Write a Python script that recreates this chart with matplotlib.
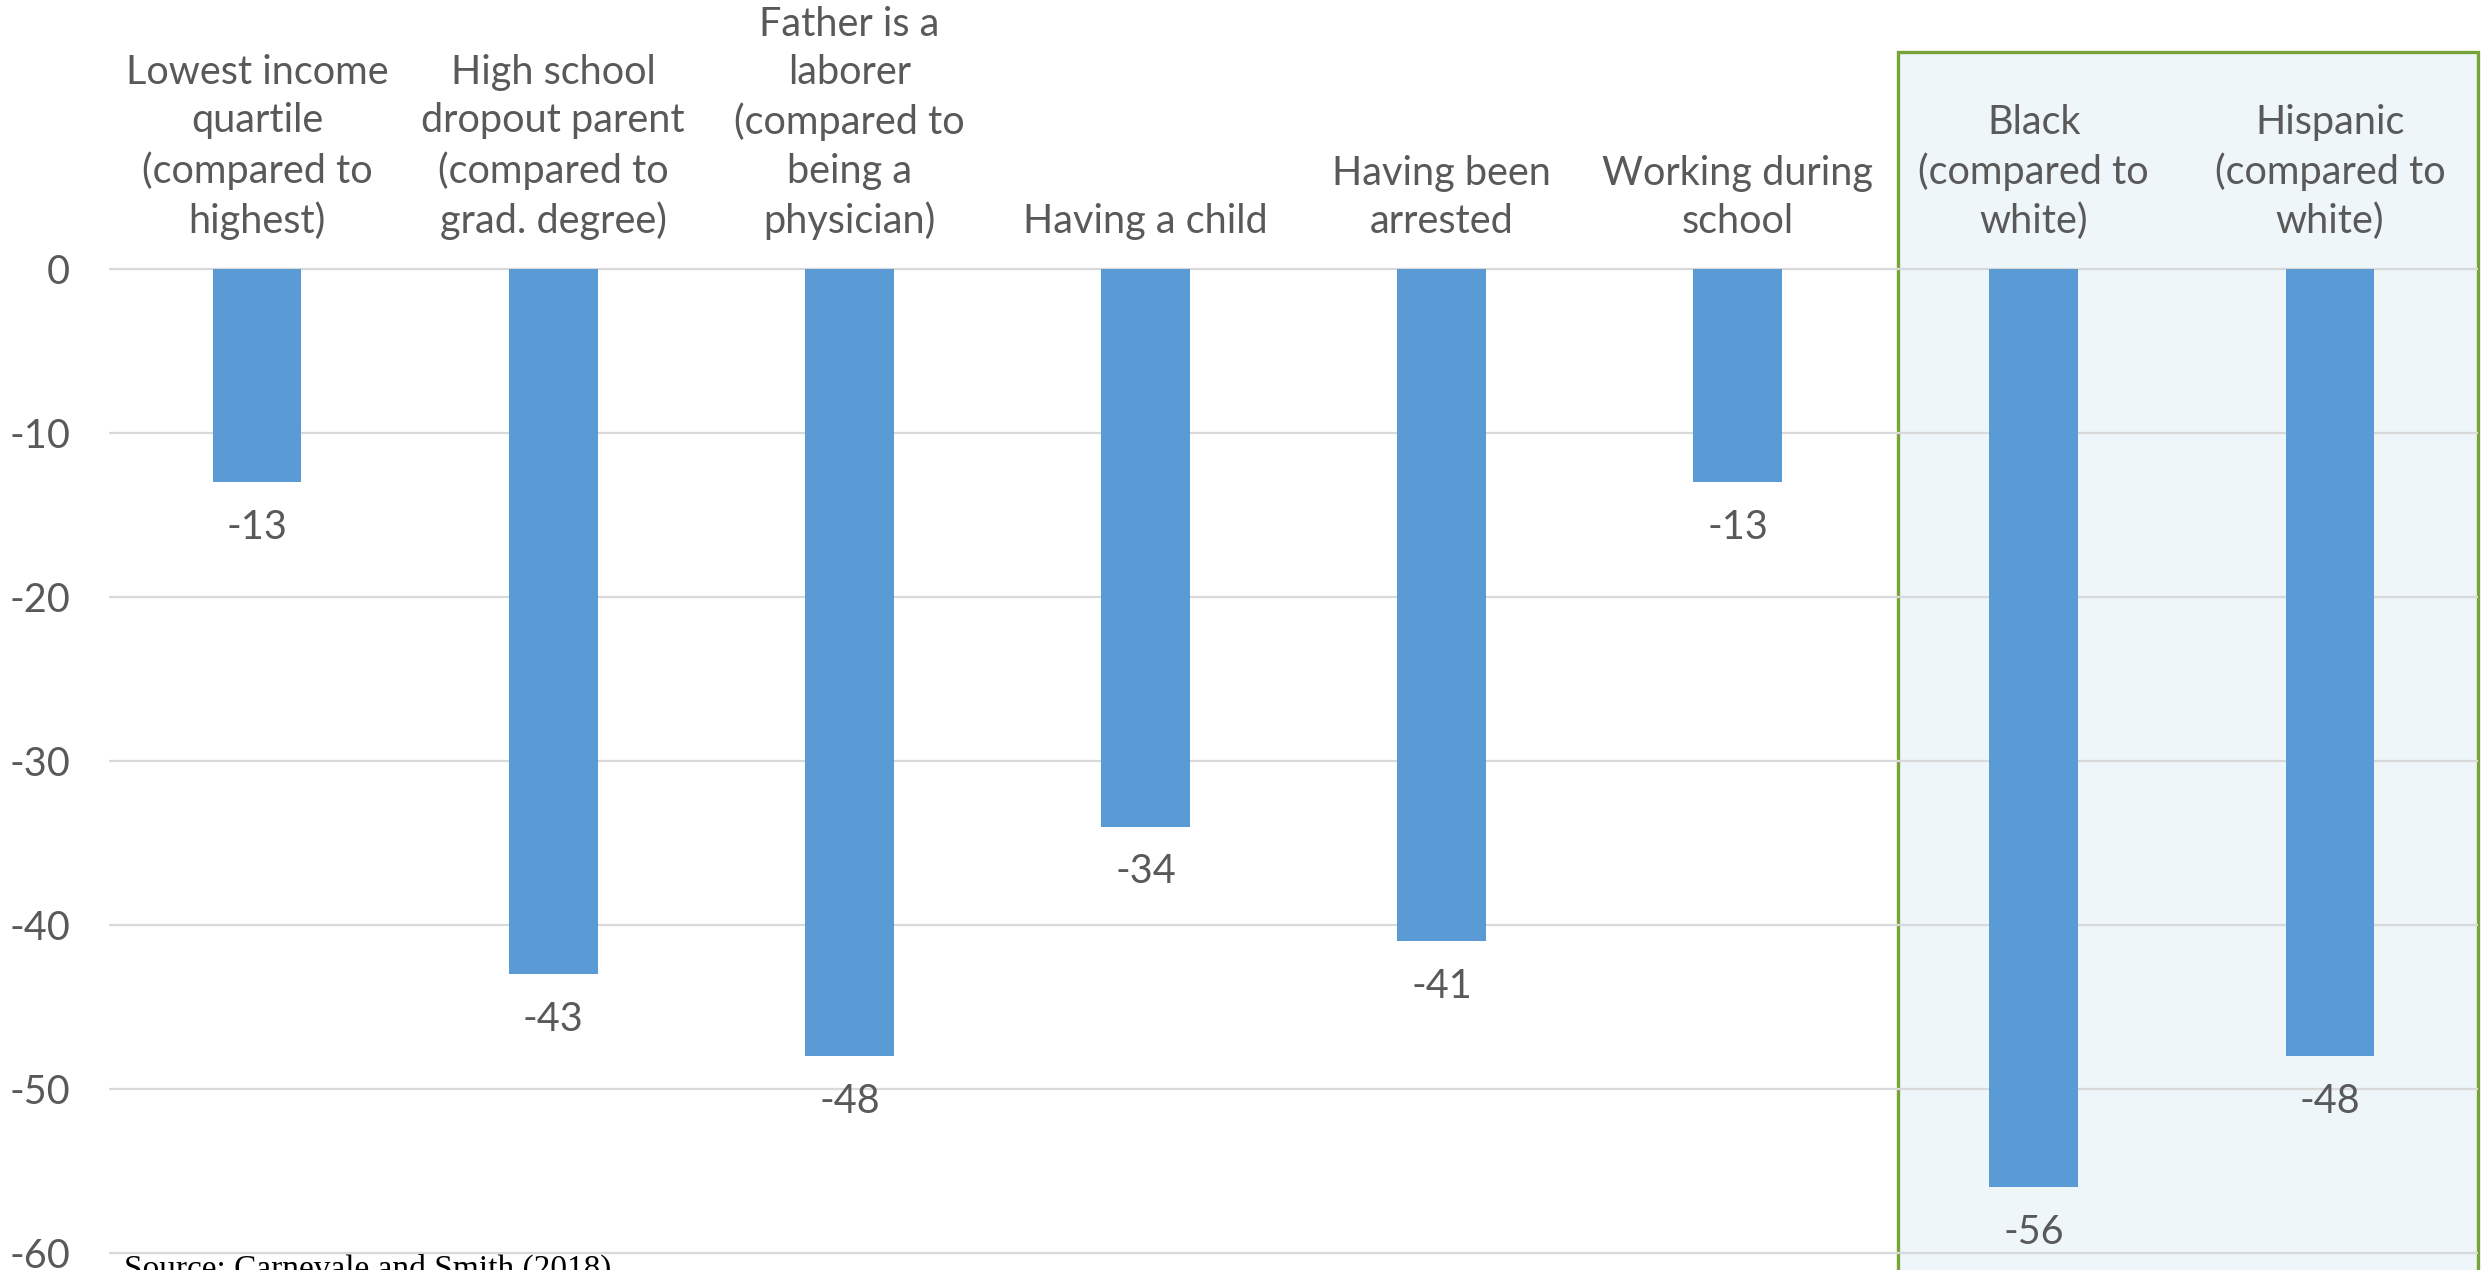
import matplotlib
matplotlib.use("Agg")
import matplotlib.pyplot as plt
from matplotlib.patches import Rectangle

# Chart data
categories = [
    "Lowest income\nquartile\n(compared to\nhighest)",
    "High school\ndropout parent\n(compared to\ngrad. degree)",
    "Father is a\nlaborer\n(compared to\nbeing a\nphysician)",
    "Having a child",
    "Having been\narrested",
    "Working during\nschool",
    "Black\n(compared to\nwhite)",
    "Hispanic\n(compared to\nwhite)",
]
values = [-13, -43, -48, -34, -41, -13, -56, -48]
y_ticks = [0, -10, -20, -30, -40, -50, -60]
source_note = "Source: Carnevale and Smith (2018)"

W, H, DPI = 2484, 1270, 100
BAR_COLOR = "#5B9BD5"
TEXT_COLOR = "#595959"
GRID_COLOR = "#D9D9D9"
BOX_FACE = "#EEF6F9"
BOX_EDGE = "#77A33A"
FONT = ["Lato", "DejaVu Sans"]
FS = 28.5

plt.rcParams["font.family"] = FONT

fig = plt.figure(figsize=(W / DPI, H / DPI), dpi=DPI)
ax = fig.add_axes([109 / W, 0, (2478 - 109) / W, 1])

n = len(categories)
ax.set_xlim(-0.5, n - 0.5)
ax.set_ylim(-61.04, 16.40)

# Highlight panel for the race / ethnicity comparisons
ax.add_patch(Rectangle((5.54, -70), 7.5 - 5.54, 13.2 + 70,
                       facecolor=BOX_FACE, edgecolor=BOX_EDGE, lw=2.4,
                       zorder=0, clip_on=False))

# Horizontal gridlines
for t in y_ticks:
    ax.axhline(t, color=GRID_COLOR, lw=1.6, zorder=1)

x = list(range(n))
ax.bar(x, values, width=0.30, color=BAR_COLOR, zorder=2)

# Value labels under each bar
for xi, v in zip(x, values):
    ax.annotate(f"{v}", (xi, v), xytext=(0, -32.4), textcoords="offset points",
                ha="center", va="center", fontsize=FS, color=TEXT_COLOR)

# Category labels above the zero line
for xi, lab in zip(x, categories):
    ax.text(xi, 2.2, lab, ha="center", va="baseline", fontsize=FS,
            color=TEXT_COLOR, linespacing=1.37, zorder=3)

ax.set_xticks([])
ax.set_yticks(y_ticks)
ax.set_yticklabels([str(t) for t in y_ticks], fontsize=FS, color=TEXT_COLOR)
ax.tick_params(axis="y", length=0, pad=28)
for s in ax.spines.values():
    s.set_visible(False)
ax.patch.set_alpha(0)

fig.text(124 / W, 1 - 1254 / H, source_note, ha="left", va="top",
         fontsize=24, family=["Liberation Serif", "DejaVu Serif"], color="#000000")

fig.savefig("out.png", dpi=DPI)
